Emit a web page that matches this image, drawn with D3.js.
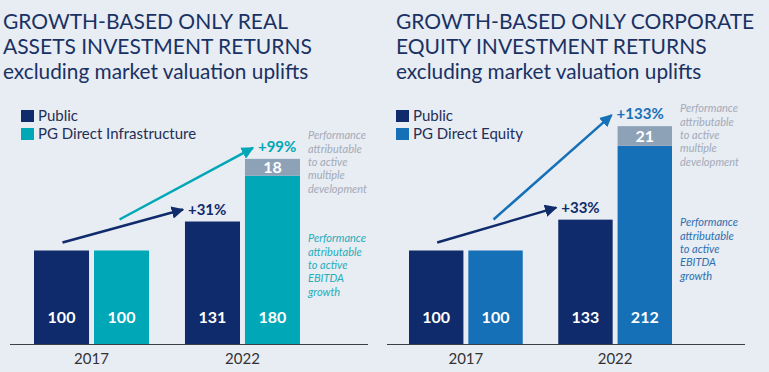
<!DOCTYPE html>
<html><head><meta charset="utf-8">
<script src="https://cdn.jsdelivr.net/npm/d3@7"></script>
<style>
html,body{margin:0;padding:0;background:#e8ecf3;}
svg{display:block;font-family:Lato,"Open Sans",sans-serif;}
</style></head>
<body><svg id="c" width="769" height="372"></svg>
<script>
const years = ["2017", "2022"];
const leftPublic = [100, 131];
const leftPG = [100, 180];
const leftMultiple = [0, 18];
const leftGrowth = ["+31%", "+99%"];
const rightPublic = [100, 133];
const rightPG = [100, 212];
const rightMultiple = [0, 21];
const rightGrowth = ["+33%", "+133%"];
const noteMultiple = ["Performance", "attributable", "to active", "multiple", "development"];
const noteEbitda = ["Performance", "attributable", "to active", "EBITDA", "growth"];

const panels = [
  {title: ["GROWTH-BASED ONLY REAL", "ASSETS INVESTMENT RETURNS"], pgName: "PG Direct Infrastructure",
   pub: leftPublic, pg: leftPG, mult: leftMultiple, growth: leftGrowth, color: "#00a7b6", noteColor: "#26adb9",
   x0: 3, axis: [10, 368], range: [34, 300], n1: 166, n2: 269},
  {title: ["GROWTH-BASED ONLY CORPORATE", "EQUITY INVESTMENT RETURNS"], pgName: "PG Direct Equity",
   pub: rightPublic, pg: rightPG, mult: rightMultiple, growth: rightGrowth, color: "#1570b8", noteColor: "#2e6fb0",
   x0: 396, axis: [387, 745], range: [409, 672], n1: 139, n2: 253}
];
const navy = "#0f2b6b", capGray = "#8ea2b7", noteGray = "#a3abb7", titleCol = "#1a3263";
const svg = d3.select("#c");
const y = d3.scaleLinear().domain([0, 100]).range([344, 250.5]);

svg.append("defs").selectAll("marker").data([["navy", navy], ["c0", panels[0].color], ["c1", panels[1].color]])
  .join("marker").attr("id", d => "ah-" + d[0]).attr("viewBox", "0 0 10 10").attr("refX", 9).attr("refY", 5)
  .attr("markerWidth", 5).attr("markerHeight", 5).attr("orient", "auto").attr("markerUnits", "strokeWidth")
  .append("path").attr("d", "M0,0 L10,5 L0,10 z").attr("fill", d => d[1]);

function note(g, lines, x, midBase, color) {
  const lh = 13.3, y0 = midBase - lh * (lines.length - 1) / 2;
  const t = g.append("text").attr("font-size", 11).attr("font-style", "italic").attr("fill", color);
  lines.forEach((s, k) => t.append("tspan").attr("x", x).attr("y", y0 + k * lh).text(s));
}

panels.forEach((p, i) => {
  const g = svg.append("g");
  const tt = g.append("text").attr("font-size", 21).attr("fill", titleCol);
  p.title.forEach((t, k) => tt.append("tspan").attr("x", p.x0).attr("y", 29 + k * 25).text(t));
  g.append("text").attr("x", p.x0).attr("y", 79).attr("font-size", 20.8).attr("fill", titleCol)
    .text("excluding market valuation uplifts");
  const lx = p.range[0] - 13;
  [["Public", navy], [p.pgName, p.color]].forEach((d, k) => {
    g.append("rect").attr("x", lx).attr("y", 110 + k * 18).attr("width", 13).attr("height", 12).attr("fill", d[1]);
    g.append("text").attr("x", lx + 17).attr("y", 121 + k * 18).attr("font-size", 15).attr("fill", "#1f2f55").text(d[0]);
  });
  const x = d3.scaleBand().domain(years).range(p.range).paddingInner(0.238);
  const xs = d3.scaleBand().domain(["pub", "pg"]).range([0, x.bandwidth()]).paddingInner(0.083);
  const axis = d3.axisBottom(x).tickSize(0).tickPadding(6);
  const ag = g.append("g").attr("transform", "translate(0,344)").call(axis);
  ag.select(".domain").remove();
  ag.selectAll("text").attr("font-size", 15).attr("fill", "#333").attr("font-family", "Lato").attr("dy", "0.9em");
  g.append("line").attr("x1", p.axis[0]).attr("x2", p.axis[1]).attr("y1", 344.5).attr("y2", 344.5)
    .attr("stroke", "#3c3f48").attr("stroke-width", 1.2);
  years.forEach((yr, j) => {
    const bx = x(yr);
    g.append("rect").attr("x", bx + xs("pub")).attr("width", xs.bandwidth()).attr("y", y(p.pub[j]))
      .attr("height", y(0) - y(p.pub[j])).attr("fill", navy);
    g.append("rect").attr("x", bx + xs("pg")).attr("width", xs.bandwidth()).attr("y", y(p.pg[j]))
      .attr("height", y(0) - y(p.pg[j])).attr("fill", p.color);
    if (p.mult[j] > 0) {
      g.append("rect").attr("x", bx + xs("pg")).attr("width", xs.bandwidth()).attr("y", y(p.pg[j] + p.mult[j]))
        .attr("height", y(p.pg[j]) - y(p.pg[j] + p.mult[j])).attr("fill", capGray);
      g.append("text").attr("x", bx + xs("pg") + xs.bandwidth() / 2).attr("y", (y(p.pg[j]) + y(p.pg[j] + p.mult[j])) / 2)
        .attr("dy", "0.36em").attr("text-anchor", "middle").attr("font-size", 16).attr("font-weight", 700)
        .attr("fill", "#fff").text(p.mult[j]);
    }
    [["pub", p.pub[j]], ["pg", p.pg[j]]].forEach(d => {
      g.append("text").attr("x", bx + xs(d[0]) + xs.bandwidth() / 2).attr("y", 317).attr("dy", "0.36em")
        .attr("text-anchor", "middle").attr("font-size", 16).attr("font-weight", 700).attr("fill", "#fff").text(d[1]);
    });
  });
  const a = x(years[0]), b = x(years[1]);
  const pubC = a + xs("pub") + xs.bandwidth() / 2, pgC = a + xs("pg") + xs.bandwidth() / 2;
  const pubTipX = b + xs("pub") - 2, pgTipX = b + xs("pg") + 8 - i * 14;
  const topPub = p.pub[1], topPg = p.pg[1] + p.mult[1];
  g.append("line").attr("x1", pubC + 1).attr("y1", y(p.pub[0]) - 8).attr("x2", pubTipX).attr("y2", y(topPub) - 12)
    .attr("stroke", navy).attr("stroke-width", 2.5).attr("marker-end", "url(#ah-navy)");
  g.append("line").attr("x1", pgC - 2).attr("y1", y(p.pg[0]) - 31).attr("x2", pgTipX).attr("y2", y(topPg) - 11)
    .attr("stroke", p.color).attr("stroke-width", 2.5).attr("marker-end", "url(#ah-c" + i + ")");
  g.append("text").attr("x", pubTipX + 5).attr("y", y(topPub) - 7).attr("font-size", 15).attr("font-weight", 700)
    .attr("fill", navy).text(p.growth[0]);
  g.append("text").attr("x", pgTipX + 5).attr("y", y(topPg) - 7).attr("font-size", 15).attr("font-weight", 700)
    .attr("fill", p.color).text(p.growth[1]);
  const nx = b + x.bandwidth() + 8;
  note(g, noteMultiple, nx, p.n1, noteGray);
  note(g, noteEbitda, nx, p.n2, p.noteColor);
});
</script></body></html>
